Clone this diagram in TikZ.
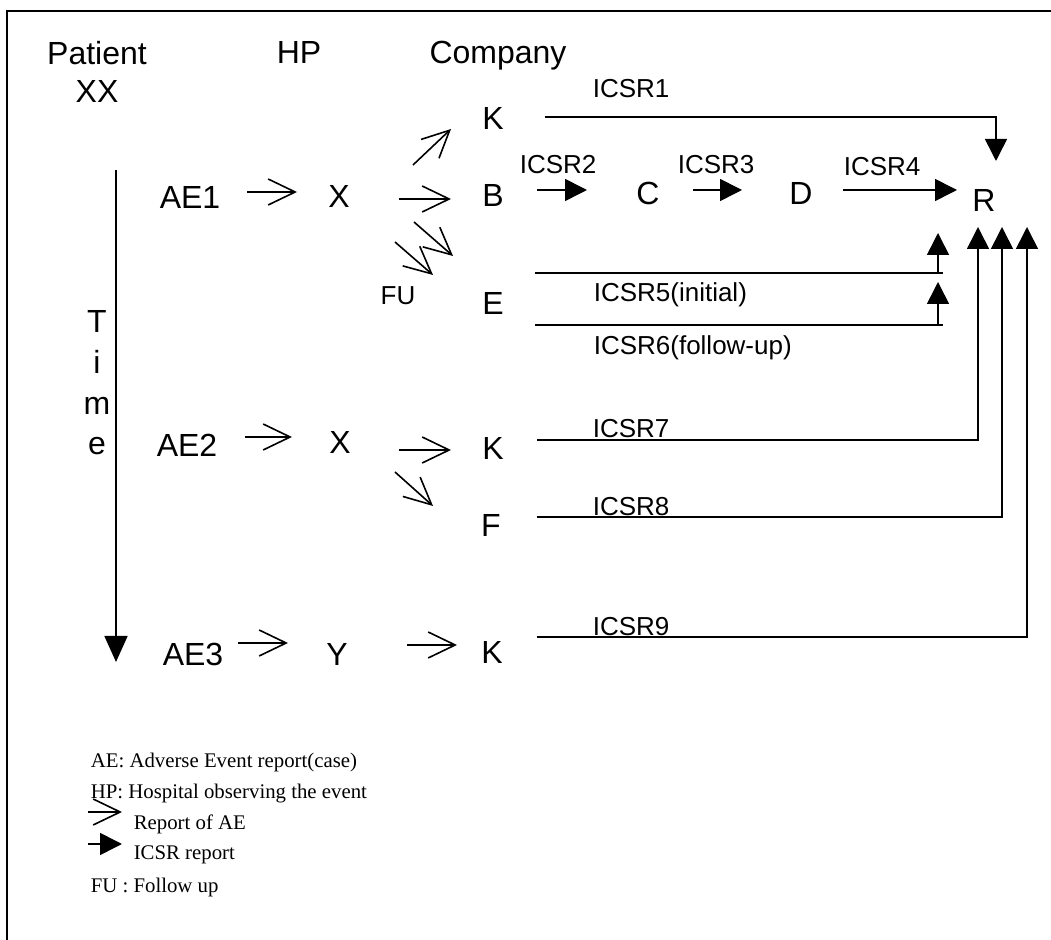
\documentclass[tikz,border=0pt]{standalone}
\usepackage{fontspec}
\setmainfont{Liberation Serif}
\setsansfont{Liberation Sans}
\usetikzlibrary{arrows.meta,calc}

\begin{document}
\begin{tikzpicture}[x=0.5pt,y=-0.5pt,line width=0.8pt,
  lbl/.style={font=\sffamily\fontsize{16}{19}\selectfont,inner sep=0pt,text height=11.5pt,text depth=0pt},
  tag/.style={font=\sffamily\fontsize{13}{15}\selectfont,inner sep=0pt,anchor=west,text height=9.3pt,text depth=0pt},
  key/.style={font=\fontsize{10.4}{12}\selectfont,inner sep=0pt,anchor=west,text height=6.9pt,text depth=0pt},
  rep/.style={-{Straight Barb[length=13.5pt,width=13pt]}},
  icsr/.style={-{Triangle[length=11pt,width=11pt]}}]
  \useasboundingbox (0,0) rectangle (1051,940);
  % ---- frame ----
  \draw[line width=1pt] (1051,11) -- (7,11) -- (7,940);
  % ---- heads and time axis ----
  \node[lbl] (patient) at (97,53) {Patient};
  \node[lbl] (xx)      at (97,91) {XX};
  \node[lbl] (hp)      at (299,52) {HP};
  \node[lbl] (comp)    at (498,52) {Company};
  \node[font=\sffamily\fontsize{16}{20.3}\selectfont,align=center,inner sep=0pt] (time) at (97,383) {T\\i\\m\\e};
  \draw[-{Triangle[length=13pt,width=11.5pt]}] ($(time)+(19,-213)$) -- ++(0,492);
  % ---- AE1 ----
  \node[lbl] (ae1) at (190,197) {AE1};
  \node[lbl] (x1)  at (339,196) {X};
  \node[lbl] (k1)  at (493,118) {K};
  \node[lbl] (b)   at (493,195) {B};
  \node[lbl] (c)   at (648,193) {C};
  \node[lbl] (d)   at (801,193) {D};
  \node[lbl] (r)   at (984,200) {R};
  \node[lbl] (e)   at (493,303) {E};
  \node[font=\sffamily\fontsize{13}{15}\selectfont,inner sep=0pt] (fu) at (398,296) {FU};
  \draw[rep] ($(ae1)+(57,-5)$) -- ++(50,0);
  \draw[rep] ($(x1)+(74,-31)$) -- ++(38,-36);
  \draw[rep] ($(x1)+(60,3)$) -- ++(52,0);
  \draw[rep] ($(x1)+(75,26)$) -- ++(39,34);
  \draw[rep] ($(x1)+(56,46)$) -- ++(38,33);
  \draw[icsr] ($(b)+(44,-5)$) -- ++(50,0);
  \draw[icsr] ($(c)+(45,-3)$) -- ++(49,0);
  \draw[icsr] ($(d)+(42,-3)$) -- ++(114,0);
  \draw[icsr] ($(k1)+(52,-1)$) -| ($(r)+(12,-39)$);
  \draw ($(e)+(42,-30)$) -- ++(408,0);
  \draw[icsr] ($(e)+(445,-30)$) -- ++(0,-40);
  \draw ($(e)+(42,22)$) -- ++(408,0);
  \draw[icsr] ($(e)+(445,22)$) -- ++(0,-43);
  % ---- AE2 ----
  \node[lbl] (ae2) at (187,445) {AE2};
  \node[lbl] (x2)  at (340,442) {X};
  \node[lbl] (k2)  at (493,448) {K};
  \node[lbl] (f)   at (491,525) {F};
  \draw[rep] ($(ae2)+(58,-8)$) -- ++(47,0);
  \draw[rep] ($(x2)+(59,8)$) -- ++(52,0);
  \draw[rep] ($(x2)+(55,30)$) -- ++(38,34);
  \draw[icsr] ($(k2)+(44,-8)$) -| ($(r)+(-6,27)$);
  \draw[icsr] ($(f)+(46,-8)$) -| ($(r)+(18,27)$);
  % ---- AE3 ----
  \node[lbl] (ae3) at (193,654) {AE3};
  \node[lbl] (y1)  at (337,654) {Y};
  \node[lbl] (k3)  at (492,652) {K};
  \draw[rep] ($(ae3)+(45,-11)$) -- ++(50,0);
  \draw[rep] ($(y1)+(70,-9)$) -- ++(50,0);
  \draw[icsr] ($(k3)+(45,-15)$) -| ($(r)+(43,27)$);
  % ---- ICSR labels ----
  \node[tag] (l1) at (592,88)  {ICSR1};
  \node[tag] (l2) at (519,164) {ICSR2};
  \node[tag] (l3) at (677,164) {ICSR3};
  \node[tag] (l4) at (843,166) {ICSR4};
  \node[tag] (l5) at (593,292) {ICSR5(initial)};
  \node[tag] (l6) at (593,345) {ICSR6(follow-up)};
  \node[tag] (l7) at (592,428) {ICSR7};
  \node[tag] (l8) at (592,506) {ICSR8};
  \node[tag] (l9) at (592,626) {ICSR9};
  % ---- legend ----
  \node[key] (kae)   at (90,761)  {AE: Adverse Event report(case)};
  \node[key] (khp)   at (90,792)  {HP: Hospital observing the event};
  \node[key] (krep)  at (133,823) {Report of AE};
  \node[key] (kicsr) at (133,853) {ICSR report};
  \node[key] (kfu)   at (90,886)  {FU : Follow up};
  \draw[rep] ($(krep.west)+(-45,-11)$) -- ++(34,0);
  \draw[icsr] ($(kicsr.west)+(-45,-9)$) -- ++(34,0);
\end{tikzpicture}
\end{document}
